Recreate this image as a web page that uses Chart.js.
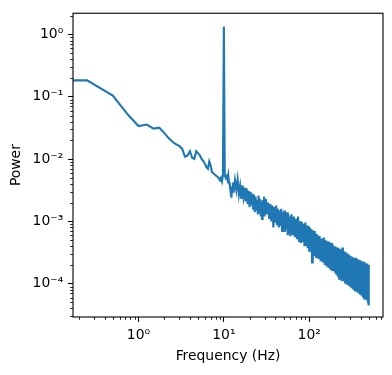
<!DOCTYPE html>
<html lang="en">
<head>
<meta charset="utf-8">
<title>Power spectrum</title>
<script src="https://cdn.jsdelivr.net/npm/chart.js@4.4.1/dist/chart.umd.min.js"></script>
<style>
  html, body { margin: 0; padding: 0; background: #fff; }
  #wrap { width: 392px; height: 375px; position: relative; }
</style>
</head>
<body>
<div id="wrap"><canvas id="psd"></canvas></div>
<script>
// frequency bins (Hz); the first one stands for the DC bin (flat line to the left edge)
const freqHz = [
  0.1, 0.25, 0.5, 0.75, 1.0, 1.25, 1.5, 1.75, 2.0, 2.25, 2.5, 2.75, 3.0, 3.25, 3.5, 3.75,
  4.0, 4.25, 4.5, 4.75, 5.0, 5.25, 5.5, 5.75, 6.0, 6.25, 6.5, 6.75, 7.0, 7.25, 7.5, 7.75,
  8.0, 8.25, 8.5, 8.75, 9.0, 9.25, 9.5, 9.75, 10.0, 10.25, 10.5, 10.75, 11.0, 11.25, 11.5, 11.75,
  12.0, 12.25, 12.5, 12.75, 13, 13.5, 14, 14.5, 15, 15.5, 16, 16.5, 17, 17.5, 18, 18.5,
  19, 19.5, 20, 20.5, 21, 21.5, 22, 22.5, 23, 23.5, 24, 24.5, 25, 25.5, 26, 26.5,
  27, 27.5, 28, 28.5, 29, 29.5, 30,
  31, 32, 33, 34, 35, 36, 37, 38, 39, 40, 41, 42, 43, 44, 45, 46, 47, 48, 49, 50,
  51, 52, 53, 54, 55, 56, 57, 58, 59, 60,
  62, 64, 66, 68, 70, 72, 74, 76, 78, 80, 82, 84, 86, 88, 90, 92, 94, 96, 98, 100,
  102, 104, 106, 108, 110, 112, 114, 116, 118, 120,
  124, 128, 132, 136, 140, 144, 148, 152, 156, 160, 164, 168, 172, 176, 180, 184,
  188, 192, 196, 200, 204, 208, 212, 216, 220, 224, 228, 232, 236, 240, 244, 248,
  256, 264, 272, 280, 288, 296, 304, 312, 320, 328, 336, 344, 352, 360, 368, 376,
  384, 392, 400, 408, 416, 424, 432, 440, 448, 456, 464, 472, 480, 488, 496, 500
];

const power = [
  0.184, 0.184, 0.105, 0.052, 0.034, 0.036, 0.031, 0.032, 0.0264, 0.0218, 0.019, 0.0173, 0.0163, 0.0146, 0.011, 0.0114,
  0.0134, 0.0105, 0.0101, 0.0134, 0.0124, 0.0114, 0.0100, 0.0093, 0.0084, 0.0074, 0.0070, 0.0092, 0.0079, 0.0062, 0.0060, 0.0057,
  0.0055, 0.0053, 0.0051, 0.0049, 0.0046, 0.0050, 0.0044, 0.0055, 1.35, 0.0055, 0.0050, 0.0053, 0.0047, 0.0056, 0.0042, 0.0038,
  0.0030, 0.0024, 0.0035, 0.0042, 0.0029, 0.0046, 0.0032, 0.0047, 0.0027, 0.0037, 0.0023, 0.0038, 0.0025, 0.0035, 0.0021, 0.0034,
  0.0019, 0.0031, 0.0017, 0.0030, 0.0018, 0.0028, 0.0016, 0.0027, 0.0014, 0.0025, 0.0015, 0.0022, 0.0013, 0.0026, 0.0014, 0.0023,
  0.0012, 0.0021, 0.0011, 0.0022, 0.0013, 0.0025, 0.0012,
  0.0023, 0.0013, 0.0020, 0.0011, 0.0019, 0.0010, 0.0018, 0.0008, 0.0017, 0.00095, 0.0018, 0.0009, 0.0016, 0.0008, 0.0015, 0.00085, 0.0016, 0.0007, 0.0014, 0.00075,
  0.0015, 0.00068, 0.0013, 0.00075, 0.0014, 0.0006, 0.0013, 0.00065, 0.0012, 0.00058,
  0.0013, 0.0006, 0.0012, 0.00056, 0.0011, 0.00052, 0.0012, 0.00047, 0.0010, 0.00045, 0.00098, 0.00047, 0.00092, 0.0004, 0.00096, 0.00042, 0.00086, 0.00037, 0.00085, 0.00034,
  0.0008, 0.00035, 0.00075, 0.00022, 0.00072, 0.0003, 0.0007, 0.00028, 0.00064, 0.00026,
  0.00062, 0.00025, 0.00058, 0.00023, 0.00053, 0.00022, 0.00055, 0.0002, 0.0005, 0.00019, 0.00048, 0.00018, 0.00047, 0.00017, 0.00045, 0.00016,
  0.00043, 0.00016, 0.0004, 0.00015, 0.00039, 0.00014, 0.00038, 0.00013, 0.00037, 0.00012, 0.00036, 0.00012, 0.00035, 0.00011, 0.00038, 0.00011,
  0.00033, 0.0001, 0.00032, 0.000095, 0.0003, 0.00009, 0.00028, 0.000085, 0.00027, 0.00008, 0.00026, 0.000078, 0.00026, 0.000074, 0.00025, 0.00007,
  0.00024, 0.000067, 0.00023, 0.000065, 0.00023, 0.00006, 0.00022, 0.000058, 0.00022, 0.000056, 0.00021, 0.000054, 0.00021, 0.000052, 0.0002, 0.000045
];

const xTickValues = [1, 10, 100];
const xTickLabels = ['10⁰', '10¹', '10²'];
const yTickValues = [1, 0.1, 0.01, 0.001, 0.0001];
const yTickLabels = ['10⁰', '10⁻¹', '10⁻²', '10⁻³', '10⁻⁴'];

const FONT = { family: 'DejaVu Sans', size: 13.9 };

// frame + minor log ticks like matplotlib
const framePlugin = {
  id: 'frame',
  afterDraw(chart) {
    const ctx = chart.ctx, a = chart.chartArea;
    const xs = chart.scales.x, ys = chart.scales.y;
    ctx.save();
    ctx.strokeStyle = '#000';
    ctx.lineWidth = 0.85;
    ctx.beginPath();
    for (let e = -1; e <= 2; e++) {
      for (let m = 2; m <= 9; m++) {
        const v = m * Math.pow(10, e);
        if (v < xs.min || v > xs.max) continue;
        const px = Math.round(xs.getPixelForValue(v)) + 0.5;
        ctx.moveTo(px, a.bottom);
        ctx.lineTo(px, a.bottom + 2.8);
      }
    }
    for (let e = -5; e <= 0; e++) {
      for (let m = 2; m <= 9; m++) {
        const v = m * Math.pow(10, e);
        if (v < ys.min || v > ys.max) continue;
        const py = Math.round(ys.getPixelForValue(v)) + 0.5;
        ctx.moveTo(a.left - 2.8, py);
        ctx.lineTo(a.left, py);
      }
    }
    ctx.stroke();
    ctx.lineWidth = 1.1;
    ctx.strokeRect(a.left, a.top, a.right - a.left, a.bottom - a.top);
    ctx.restore();
  }
};

const ctx = document.getElementById('psd').getContext('2d');
new Chart(ctx, {
  type: 'line',
  data: {
    datasets: [{
      data: freqHz.map((f, i) => ({ x: f, y: power[i] })),
      borderColor: '#1f77b4',
      borderWidth: 2.1,
      pointRadius: 0,
      tension: 0,
      fill: false
    }]
  },
  options: {
    responsive: true,
    maintainAspectRatio: false,
    animation: false,
    events: [],
    layout: { padding: { left: 0, top: 11, right: 9, bottom: 0 } },
    plugins: { legend: { display: false }, tooltip: { enabled: false } },
    scales: {
      x: {
        type: 'logarithmic',
        min: 0.171,
        max: 731,
        afterFit: s => { s.height = 58; },
        afterBuildTicks: s => { s.ticks = xTickValues.map(v => ({ value: v })); },
        grid: { drawOnChartArea: false, drawTicks: true, tickLength: 4.9, tickColor: '#000', tickWidth: 1.1 },
        border: { display: false },
        ticks: {
          autoSkip: false, maxRotation: 0, padding: 4.9, color: '#000', font: FONT,
          callback: (v) => xTickLabels[xTickValues.indexOf(v)] ?? ''
        },
        title: { display: true, text: 'Frequency (Hz)', color: '#000', font: FONT, padding: { top: 0, bottom: 10 } }
      },
      y: {
        type: 'logarithmic',
        min: 2.92e-5,
        max: 2.2,
        afterFit: s => { s.width = 73; },
        afterBuildTicks: s => { s.ticks = yTickValues.map(v => ({ value: v })); },
        grid: { drawOnChartArea: false, drawTicks: true, tickLength: 4.9, tickColor: '#000', tickWidth: 1.1 },
        border: { display: false },
        ticks: {
          autoSkip: false, padding: 4.9, color: '#000', font: FONT,
          callback: (v) => yTickLabels[yTickValues.indexOf(v)] ?? ''
        },
        title: { display: true, text: 'Power', color: '#000', font: FONT, padding: { top: 7.7, bottom: 0 } }
      }
    }
  },
  plugins: [framePlugin]
});
</script>
</body>
</html>
